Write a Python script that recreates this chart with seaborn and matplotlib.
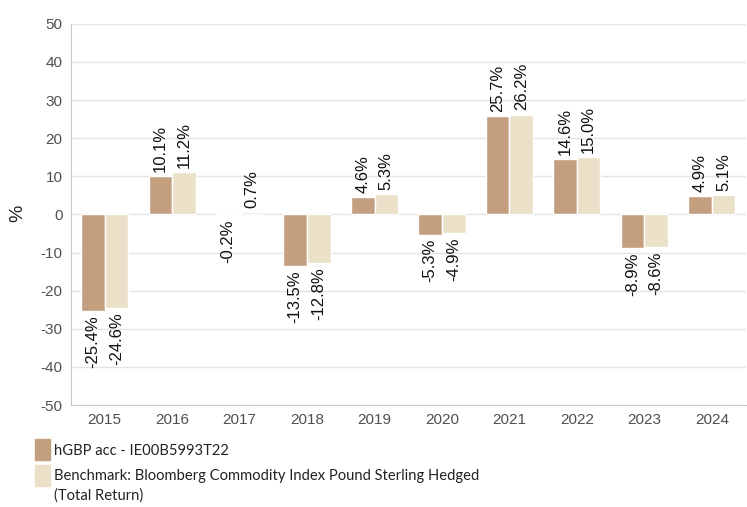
import numpy as np
import pandas as pd
import matplotlib
matplotlib.use("Agg")
import matplotlib.pyplot as plt
from matplotlib.patches import Rectangle
import seaborn as sns

years = ["2015", "2016", "2017", "2018", "2019", "2020", "2021", "2022", "2023", "2024"]
fund = [-25.4, 10.1, -0.2, -13.5, 4.6, -5.3, 25.7, 14.6, -8.9, 4.9]
bench = [-24.6, 11.2, 0.7, -12.8, 5.3, -4.9, 26.2, 15.0, -8.6, 5.1]
series_names = ["hGBP acc - IE00B5993T22",
                "Benchmark: Bloomberg Commodity Index Pound Sterling Hedged\n(Total Return)"]
colors = ["#C49F7F", "#EBE1C8"]
y_ticks = [-50, -40, -30, -20, -10, 0, 10, 20, 30, 40, 50]

df = pd.DataFrame({
    "year": years * 2,
    "value": fund + bench,
    "series": [series_names[0]] * len(years) + [series_names[1]] * len(years),
})

sns.set_style("white")
plt.rcParams["font.family"] = ["Liberation Sans", "DejaVu Sans"]
plt.rcParams["axes.unicode_minus"] = False

fig = plt.figure(figsize=(7.47, 5.07), dpi=100)
ax = fig.add_axes([0.095, 0.201, 0.903, 0.752])

sns.barplot(data=df, x="year", y="value", hue="series", palette=colors, saturation=1,
            width=0.7, edgecolor="white", linewidth=1, legend=False, ax=ax, zorder=3)

for cont in ax.containers:
    labels = [f"{v:.1f}%" for v in cont.datavalues]
    ax.bar_label(cont, labels=labels, rotation=90, padding=3, fontsize=12, color="#111111")

ax.set_ylim(-50, 50)
ax.set_yticks(y_ticks)
ax.yaxis.grid(True, color="#E4E4E4", linewidth=1, zorder=0)
ax.set_axisbelow(True)
ax.set_xlabel("")
ax.set_ylabel("")
fig.text(18 / 747, 1 - 213 / 507, "%", fontsize=14, color="#222222",
         rotation=90, ha="center", va="center")
ax.tick_params(axis="both", length=0, labelsize=11, colors="#505050", pad=6)
for s in ["top", "right"]:
    ax.spines[s].set_visible(False)
ax.spines["left"].set_color("#C8C8C8")
ax.spines["bottom"].set_color("#C8C8C8")

# legend drawn below the axes
leg_font = ["Lato", "DejaVu Sans"]
leg_size = 10.6
fig.add_artist(Rectangle((35 / 747, 1 - 460 / 507), 15 / 747, 21 / 507,
                         transform=fig.transFigure, color=colors[0]))
fig.add_artist(Rectangle((35 / 747, 1 - 486 / 507), 15 / 747, 21 / 507,
                         transform=fig.transFigure, color=colors[1]))
fig.text(54 / 747, 1 - 451 / 507, series_names[0], fontsize=leg_size, family=leg_font,
         color="#222222", va="center")
fig.text(54 / 747, 1 - 476 / 507, series_names[1].split("\n")[0], fontsize=leg_size,
         family=leg_font, color="#222222", va="center")
fig.text(54 / 747, 1 - 496 / 507, series_names[1].split("\n")[1], fontsize=leg_size,
         family=leg_font, color="#222222", va="center")

fig.savefig("out.png", dpi=100)
